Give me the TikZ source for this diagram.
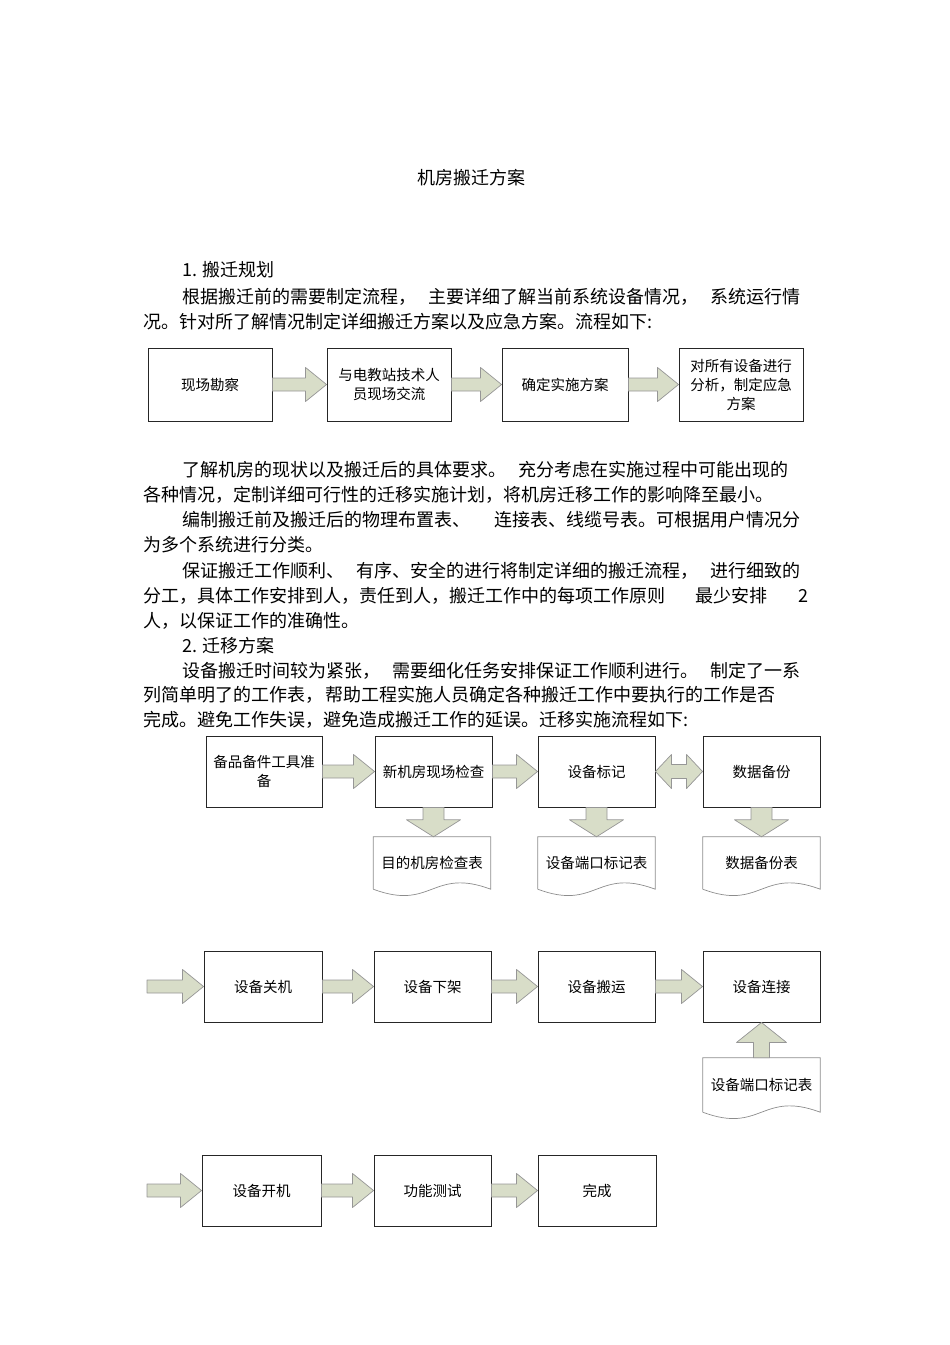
\documentclass[tikz,border=0pt]{standalone}
\usepackage{fontspec}
\setmainfont{Noto Sans CJK SC}
\usepackage{tikz}
\usetikzlibrary{calc}
\setlength{\parindent}{0pt}

\definecolor{arrfill}{RGB}{216,221,200}
\definecolor{arrline}{RGB}{150,150,150}

\newcommand{\rarr}[2]{%
  \path[blockarr] let \p1=(#1), \p2=(#2) in
  (\x1,\y1+6.5pt) -- (\x2-21pt,\y1+6.5pt) -- (\x2-21pt,\y1+17pt) -- (\x2,\y1)
  -- (\x2-21pt,\y1-17pt) -- (\x2-21pt,\y1-6.5pt) -- (\x1,\y1-6.5pt) -- cycle;}
\newcommand{\lrarr}[2]{%
  \path[blockarr] let \p1=(#1), \p2=(#2) in
  (\x1,\y1) -- (\x1+16pt,\y1+17pt) -- (\x1+16pt,\y1+7pt) -- (\x2-16pt,\y1+7pt)
  -- (\x2-16pt,\y1+17pt) -- (\x2,\y1) -- (\x2-16pt,\y1-17pt) -- (\x2-16pt,\y1-7pt)
  -- (\x1+16pt,\y1-7pt) -- (\x1+16pt,\y1-17pt) -- cycle;}
\newcommand{\darr}[2]{%
  \path[blockarr] let \p1=(#1), \p2=(#2) in
  (\x1-10.5pt,\y1) -- (\x1-10.5pt,\y2+17pt) -- (\x1-27pt,\y2+17pt) -- (\x1,\y2)
  -- (\x1+27pt,\y2+17pt) -- (\x1+10.5pt,\y2+17pt) -- (\x1+10.5pt,\y1) -- cycle;}
\newcommand{\uarr}[2]{%
  \path[blockarr] let \p1=(#1), \p2=(#2) in
  (\x1-8pt,\y1) -- (\x1-8pt,\y2-20pt) -- (\x1-25pt,\y2-20pt) -- (\x2,\y2)
  -- (\x1+25pt,\y2-20pt) -- (\x1+8pt,\y2-20pt) -- (\x1+8pt,\y1) -- cycle;}
\newcommand{\docout}[1]{%
  \draw[docline] (#1.south west) -- (#1.north west) -- (#1.north east) -- (#1.south east)
  .. controls ($(#1.south)+(0,22pt)$) and ($(#1.south)+(0,-22pt)$) .. (#1.south west);}

\begin{document}
\begin{tikzpicture}[x=1pt,y=-1pt,
    txt/.style={anchor=west,inner sep=0pt,font=\fontsize{18}{24}\selectfont},
    box/.style={draw=black!85,line width=0.9pt,inner sep=2pt,align=center,
      font=\fontsize{14.5}{19}\selectfont},
    fbox/.style={box,minimum width=124pt,minimum height=73pt},
    mbox/.style={box,minimum width=117pt,minimum height=71pt},
    doc/.style={inner sep=0pt,align=center,minimum width=117pt,
      font=\fontsize{14.5}{19}\selectfont},
    docline/.style={draw=black!45,line width=0.7pt},
    blockarr/.style={fill=arrfill,draw=arrline,line width=0.7pt,line join=round}]
  \useasboundingbox (0,0) rectangle (950,1345);

  \node (title) at (471,178) {\fontsize{18}{24}\selectfont 机房搬迁方案};

  \node[txt] (t1) at (182,270) {1. 搬迁规划};
  \node[txt] (t2) at (182,297) {\makebox[618pt][s]{根据搬迁前的需要制定流程，\hfill 主要详细了解当前系统设备情况，\hfill 系统运行情}};
  \node[txt] (t3) at (143,322) {况。针对所了解情况制定详细搬迁方案以及应急方案。流程如下:};

  \node[fbox] (p1) at (210,384.5) {现场勘察};
  \node[fbox] (p2) at (389,384.5) {与电教站技术人\\员现场交流};
  \node[fbox,minimum width=126pt] (p3) at (565,384.5) {确定实施方案};
  \node[fbox] (p4) at (741,384.5) {对所有设备进行\\分析，制定应急\\方案};
  \rarr{p1.east}{p2.west}
  \rarr{p2.east}{p3.west}
  \rarr{p3.east}{p4.west}

  \node[txt] (t4) at (182,470) {\makebox[606pt][s]{了解机房的现状以及搬迁后的具体要求。\hfill 充分考虑在实施过程中可能出现的}};
  \node[txt] (t5) at (143,495) {各种情况，定制详细可行性的迁移实施计划，将机房迁移工作的影响降至最小。};
  \node[txt] (t6) at (182,520) {\makebox[618pt][s]{编制搬迁前及搬迁后的物理布置表、\hfill 连接表、线缆号表。可根据用户情况分}};
  \node[txt] (t7) at (143,545) {为多个系统进行分类。};
  \node[txt] (t8) at (182,571) {\makebox[618pt][s]{保证搬迁工作顺利、\hfill 有序、安全的进行将制定详细的搬迁流程，\hfill 进行细致的}};
  \node[txt] (t9) at (143,596) {\makebox[665pt][s]{分工，具体工作安排到人，责任到人，搬迁工作中的每项工作原则\hfill 最少安排\hfill 2}};
  \node[txt] (t10) at (143,621) {人，以保证工作的准确性。};
  \node[txt] (t11) at (182,646) {2. 迁移方案};
  \node[txt] (t12) at (182,671) {\makebox[618pt][s]{设备搬迁时间较为紧张，\hfill 需要细化任务安排保证工作顺利进行。\hfill 制定了一系}};
  \node[txt] (t13) at (143,695) {\makebox[632pt][s]{列简单明了的工作表，\hfill 帮助工程实施人员确定各种搬迁工作中要执行的工作是否}};
  \node[txt] (t14) at (143,720) {完成。避免工作失误，避免造成搬迁工作的延误。迁移实施流程如下:};

  \node[mbox,minimum width=116pt] (a1) at (264,771.5) {备品备件工具准\\备};
  \node[mbox] (a2) at (433.5,771.5) {新机房现场检查};
  \node[mbox] (a3) at (596.5,771.5) {设备标记};
  \node[mbox] (a4) at (761.5,771.5) {数据备份};
  \node[doc,minimum height=52pt] (d1) at (432,863) {目的机房检查表};
  \node[doc,minimum height=52pt] (d2) at (596.5,863) {设备端口标记表};
  \node[doc,minimum height=52pt] (d3) at (761.5,863) {数据备份表};
  \docout{d1}
  \docout{d2}
  \docout{d3}
  \rarr{a1.east}{a2.west}
  \rarr{a2.east}{a3.west}
  \lrarr{a3.east}{a4.west}
  \darr{a2.south}{d1.north}
  \darr{a3.south}{d2.north}
  \darr{a4.south}{d3.north}

  \coordinate (in2) at (147,986.5);
  \node[mbox,minimum width=118pt] (b1) at (263,986.5) {设备关机};
  \node[mbox] (b2) at (432.5,986.5) {设备下架};
  \node[mbox] (b3) at (596.5,986.5) {设备搬运};
  \node[mbox] (b4) at (761.5,986.5) {设备连接};
  \node[doc,minimum height=54pt] (d4) at (761.5,1085) {设备端口标记表};
  \docout{d4}
  \rarr{in2}{b1.west}
  \rarr{b1.east}{b2.west}
  \rarr{b2.east}{b3.west}
  \rarr{b3.east}{b4.west}
  \uarr{d4.north}{b4.south}

  \coordinate (in3) at (147,1190.5);
  \node[mbox,minimum width=119pt] (c1) at (261.5,1190.5) {设备开机};
  \node[mbox] (c2) at (432.5,1190.5) {功能测试};
  \node[mbox,minimum width=118pt] (c3) at (597,1190.5) {完成};
  \rarr{in3}{c1.west}
  \rarr{c1.east}{c2.west}
  \rarr{c2.east}{c3.west}
\end{tikzpicture}
\end{document}
